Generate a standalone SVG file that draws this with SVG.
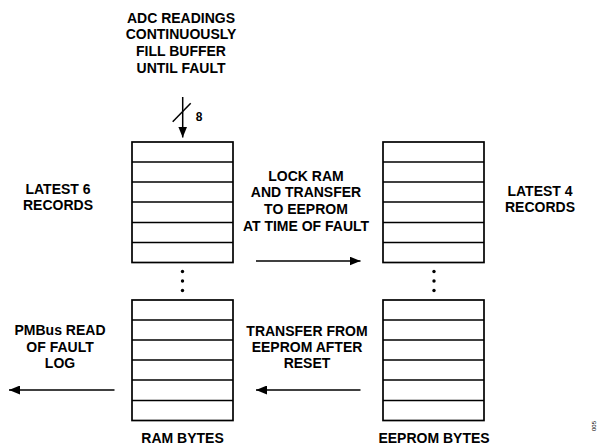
<svg xmlns="http://www.w3.org/2000/svg" width="597" height="445" viewBox="0 0 597 445">
<style>
  text { font-family: "Liberation Sans", Arial, sans-serif; font-weight: bold; font-size: 14px; fill: #000; text-anchor: middle; }
  .box { fill: #fff; stroke: #000; stroke-width: 1.7; }
  .row { stroke: #000; stroke-width: 1.5; }
  .wire { stroke: #000; stroke-width: 1.5; fill: none; }
  .dot { fill: #000; }
</style>
<defs>
  <marker id="ah" viewBox="0 0 11 9" refX="11" refY="4.5" markerWidth="11" markerHeight="9" markerUnits="userSpaceOnUse" orient="auto">
    <path d="M0,0 L11,4.5 L0,9 Z" fill="#000"/>
  </marker>
</defs>
<rect width="597" height="445" fill="#fff"/>

<g id="title">
  <text x="181" y="22.5">ADC READINGS</text>
  <text x="181" y="39.3">CONTINUOUSLY</text>
  <text x="181" y="56">FILL BUFFER</text>
  <text x="181" y="72.7">UNTIL FAULT</text>
</g>

<g id="ram-top">
  <rect class="box" x="132" y="142" width="101" height="120.5"/>
  <line class="row" x1="132" y1="162" x2="233" y2="162"/>
  <line class="row" x1="132" y1="182" x2="233" y2="182"/>
  <line class="row" x1="132" y1="202" x2="233" y2="202"/>
  <line class="row" x1="132" y1="222.5" x2="233" y2="222.5"/>
  <line class="row" x1="132" y1="242.5" x2="233" y2="242.5"/>
  <circle class="dot" cx="182.5" cy="271.5" r="1.7"/>
  <circle class="dot" cx="182.5" cy="281" r="1.7"/>
  <circle class="dot" cx="182.5" cy="290.5" r="1.7"/>
</g>

<g id="ram-bottom">
  <rect class="box" x="132" y="300" width="101" height="120.5"/>
  <line class="row" x1="132" y1="320" x2="233" y2="320"/>
  <line class="row" x1="132" y1="340" x2="233" y2="340"/>
  <line class="row" x1="132" y1="360" x2="233" y2="360"/>
  <line class="row" x1="132" y1="380" x2="233" y2="380"/>
  <line class="row" x1="132" y1="400.5" x2="233" y2="400.5"/>
  <text x="182.5" y="443">RAM BYTES</text>
</g>

<g id="eeprom-top">
  <rect class="box" x="383" y="142" width="101" height="120.5"/>
  <line class="row" x1="383" y1="162" x2="484" y2="162"/>
  <line class="row" x1="383" y1="182" x2="484" y2="182"/>
  <line class="row" x1="383" y1="202" x2="484" y2="202"/>
  <line class="row" x1="383" y1="222.5" x2="484" y2="222.5"/>
  <line class="row" x1="383" y1="242.5" x2="484" y2="242.5"/>
  <circle class="dot" cx="434" cy="271.5" r="1.7"/>
  <circle class="dot" cx="434" cy="281" r="1.7"/>
  <circle class="dot" cx="434" cy="290.5" r="1.7"/>
</g>

<g id="eeprom-bottom">
  <rect class="box" x="383" y="300" width="101" height="120.5"/>
  <line class="row" x1="383" y1="320" x2="484" y2="320"/>
  <line class="row" x1="383" y1="340" x2="484" y2="340"/>
  <line class="row" x1="383" y1="360" x2="484" y2="360"/>
  <line class="row" x1="383" y1="380" x2="484" y2="380"/>
  <line class="row" x1="383" y1="400.5" x2="484" y2="400.5"/>
  <text x="434" y="443">EEPROM BYTES</text>
</g>

<g id="label-latest6">
  <text x="58" y="193.5">LATEST 6</text>
  <text x="58" y="209.5">RECORDS</text>
</g>

<g id="label-latest4">
  <text x="540" y="196">LATEST 4</text>
  <text x="540" y="212">RECORDS</text>
</g>

<g id="label-lock">
  <text x="306" y="180.7">LOCK RAM</text>
  <text x="306" y="197.3">AND TRANSFER</text>
  <text x="306" y="214">TO EEPROM</text>
  <text x="306" y="230.5">AT TIME OF FAULT</text>
</g>

<g id="label-transfer">
  <text x="307" y="335.7">TRANSFER FROM</text>
  <text x="307" y="352">EEPROM AFTER</text>
  <text x="307" y="368.3">RESET</text>
</g>

<g id="label-pmbus">
  <text x="60" y="335.2">PMBus READ</text>
  <text x="60" y="351.8">OF FAULT</text>
  <text x="60" y="368.3">LOG</text>
</g>

<g id="connectors">
  <line class="wire" x1="182.7" y1="97" x2="182.7" y2="137.5" marker-end="url(#ah)"/>
  <line class="wire" x1="172.7" y1="121.7" x2="190.7" y2="103.3"/>
  <text x="199" y="120.5" style="font-size:12px">8</text>
  <line class="wire" x1="256" y1="261" x2="360.5" y2="261" marker-end="url(#ah)"/>
  <line class="wire" x1="360.5" y1="390" x2="256" y2="390" marker-end="url(#ah)"/>
  <line class="wire" x1="114.5" y1="390" x2="9" y2="390" marker-end="url(#ah)"/>
</g>

<text x="0" y="0" transform="translate(596 421) rotate(-90)" style="font-size:6px;font-weight:normal;text-anchor:end">005</text>
</svg>
